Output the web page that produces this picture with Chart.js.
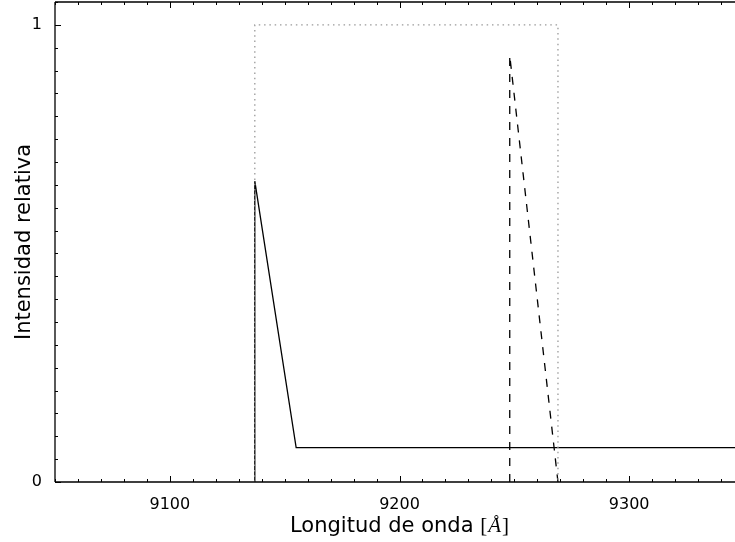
<!DOCTYPE html>
<html>
<head>
<meta charset="utf-8">
<script src="https://cdn.jsdelivr.net/npm/chart.js@4/dist/chart.umd.min.js"></script>
<style>
  html, body { margin: 0; padding: 0; background: #fff; overflow: hidden; }
  #wrap { width: 750px; height: 542px; position: relative; }
</style>
</head>
<body>
<div id="wrap"><canvas id="c"></canvas></div>
<script>
// ---- data ----
const solidX  = [9137, 9137, 9155, 9350];
const solidY  = [0, 0.658, 0.075, 0.075];
const dottedX = [9137, 9137, 9269, 9269];
const dottedY = [0, 1, 1, 0];
const dashedX = [9248, 9248, 9269];
const dashedY = [0, 0.933, 0];
const xTickLabels = [9100, 9200, 9300];
const yTickLabels = [0, 1];
const xLabel = "Longitud de onda";
const xUnit = "Å";
const yLabel = "Intensidad relativa";

const toPts = (xs, ys) => xs.map((x, i) => ({ x: x, y: ys[i] }));

const frame = {
  id: 'frame',
  afterDatasetsDraw(chart) {
    const ctx = chart.ctx, a = chart.chartArea;
    const xs = chart.scales.x, ys = chart.scales.y;
    ctx.save();
    ctx.strokeStyle = '#000';
    ctx.lineWidth = 1.3;
    ctx.beginPath();
    ctx.moveTo(a.left, a.top); ctx.lineTo(a.right, a.top);
    ctx.moveTo(a.left, a.bottom); ctx.lineTo(a.right, a.bottom);
    ctx.moveTo(a.left, a.top); ctx.lineTo(a.left, a.bottom);
    ctx.moveTo(a.right, a.top); ctx.lineTo(a.right, a.bottom);
    ctx.stroke();
    ctx.lineWidth = 1;
    ctx.beginPath();
    for (let v = xs.min; v <= xs.max + 1e-6; v += 10) {
      const px = Math.round(xs.getPixelForValue(v)) + 0.5;
      const len = (Math.abs(v % 100) < 1e-6) ? 6 : 3;
      ctx.moveTo(px, a.bottom); ctx.lineTo(px, a.bottom - len);
      ctx.moveTo(px, a.top); ctx.lineTo(px, a.top + len);
    }
    for (let i = 0; i <= 21; i++) {
      const v = i * 0.05;
      if (v > ys.max + 1e-6) break;
      const py = Math.round(ys.getPixelForValue(v)) + 0.5;
      const len = (i % 20 === 0) ? 6 : 3;
      ctx.moveTo(a.left, py); ctx.lineTo(a.left + len, py);
      ctx.moveTo(a.right, py); ctx.lineTo(a.right - len, py);
    }
    ctx.stroke();
    ctx.restore();
  },
  afterDraw(chart) {
    const ctx = chart.ctx, a = chart.chartArea;
    ctx.save();
    ctx.fillStyle = '#000';
    ctx.textBaseline = 'alphabetic';
    const f1 = '21px "DejaVu Sans"';
    const fB = '21px "Liberation Serif"';
    const fA = 'italic 21px "Liberation Serif"';
    ctx.font = f1; const w1 = ctx.measureText(xLabel + ' ').width;
    ctx.font = fB; const wb1 = ctx.measureText('[').width; const wb2 = ctx.measureText(']').width;
    ctx.font = fA; const wA = ctx.measureText(xUnit).width + 2;
    const total = w1 + wb1 + wA + wb2;
    let x = (a.left + a.right) / 2 - total / 2;
    const by = 532;
    ctx.textAlign = 'left';
    ctx.font = f1; ctx.fillText(xLabel + ' ', x, by); x += w1;
    ctx.font = fB; ctx.fillText('[', x, by); x += wb1;
    ctx.font = fA; ctx.fillText(xUnit, x + 1, by); x += wA;
    ctx.font = fB; ctx.fillText(']', x, by);
    ctx.translate(30, (a.top + a.bottom) / 2);
    ctx.rotate(-Math.PI / 2);
    ctx.textAlign = 'center';
    ctx.font = f1;
    ctx.fillText(yLabel, 0, 0);
    ctx.restore();
  }
};

new Chart(document.getElementById('c'), {
  type: 'scatter',
  data: {
    datasets: [
      { data: toPts(dottedX, dottedY), showLine: true, borderColor: '#9a9a9a', borderWidth: 1.3,
        borderDash: [1.5, 3.8], pointRadius: 0, tension: 0, fill: false },
      { data: toPts(solidX, solidY), showLine: true, borderColor: '#000', borderWidth: 1.3,
        pointRadius: 0, tension: 0, fill: false },
      { data: toPts(dashedX, dashedY), showLine: true, borderColor: '#000', borderWidth: 1.3,
        borderDash: [8, 8], pointRadius: 0, tension: 0, fill: false }
    ]
  },
  options: {
    responsive: true,
    maintainAspectRatio: false,
    animation: false,
    events: [],
    layout: { padding: { top: 2, right: 6, left: 0, bottom: 0 } },
    plugins: { legend: { display: false }, tooltip: { enabled: false } },
    scales: {
      x: {
        type: 'linear', min: 9050, max: 9350,
        grid: { display: false }, border: { display: false },
        afterBuildTicks: s => { s.ticks = xTickLabels.map(v => ({ value: v })); },
        afterFit: s => { s.height = 60; s.paddingLeft = 0; s.paddingRight = 0; },
        ticks: { color: '#000', font: { family: 'DejaVu Sans', size: 16 }, padding: 5, maxRotation: 0,
                 callback: v => String(v) }
      },
      y: {
        type: 'linear', min: 0, max: 1.05,
        grid: { display: false }, border: { display: false },
        afterBuildTicks: s => { s.ticks = yTickLabels.map(v => ({ value: v })); },
        afterFit: s => { s.width = 55; s.paddingTop = 0; s.paddingBottom = 0; },
        ticks: { color: '#000', font: { family: 'DejaVu Sans', size: 16 }, padding: 5,
                 callback: v => String(v) }
      }
    }
  },
  plugins: [frame]
});
</script>
</body>
</html>
